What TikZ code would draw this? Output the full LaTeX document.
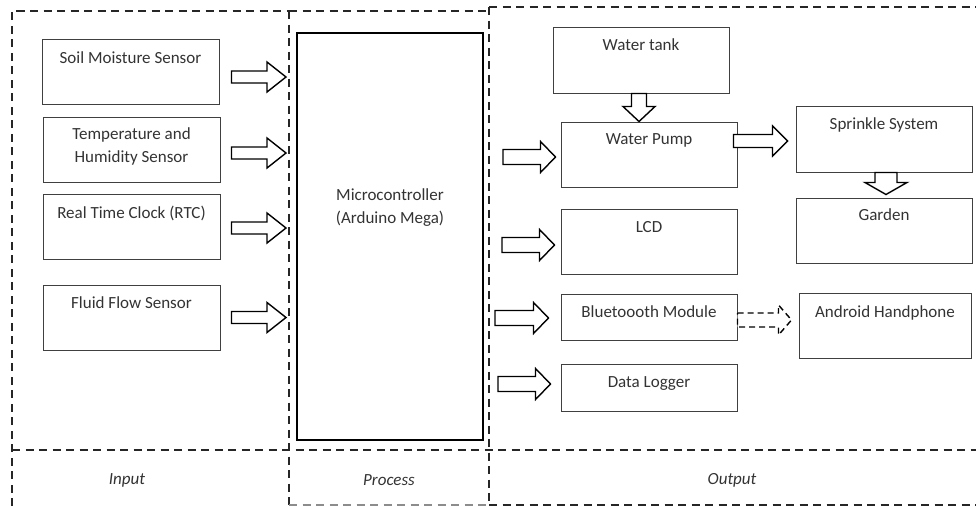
\documentclass[tikz,border=0pt]{standalone}
\usepackage{fontspec}
\setmainfont{Carlito}
\usetikzlibrary{calc}
\tikzset{
  box/.style={draw=black!75, line width=1pt, rectangle, inner sep=0pt},
  mcbox/.style={draw=black, line width=2pt, rectangle, inner sep=0pt},
  txt/.style={font=\fontsize{17}{23}\selectfont, text=black!80, align=center, inner sep=0pt, anchor=base},
  lbl/.style={font=\fontsize{17}{23}\selectfont\itshape, text=black!80, inner sep=0pt, anchor=base},
  panel/.style={line width=1.4pt, dash pattern=on 8pt off 5.5pt, black!85},
  blk/.style={draw=black, line width=1.4pt, fill=white, line join=miter},
  dblk/.style={blk, dash pattern=on 6pt off 4pt}
}
% horizontal block arrow: [style]{start}{end}{shaft half}{head half}{head length}
\newcommand\harr[6][]{\draw[blk,#1] let \p1=#2, \p2=#3 in
  (\x1,{\y1+#4}) -- ({\x2-#6},{\y1+#4}) -- ({\x2-#6},{\y1+#5}) -- (\x2,\y1)
  -- ({\x2-#6},{\y1-#5}) -- ({\x2-#6},{\y1-#4}) -- (\x1,{\y1-#4}) -- cycle;}
% vertical (downward) block arrow
\newcommand\varr[6][]{\draw[blk,#1] let \p1=#2, \p2=#3 in
  ({\x1-#4},\y1) -- ({\x1-#4},{\y2+#6}) -- ({\x1-#5},{\y2+#6}) -- (\x1,\y2)
  -- ({\x1+#5},{\y2+#6}) -- ({\x1+#4},{\y2+#6}) -- ({\x1+#4},\y1) -- cycle;}
\begin{document}
\begin{tikzpicture}[x=1pt,y=-1pt]
\useasboundingbox (0,0) rectangle (976,506);
% panels
\draw[panel] (12,506) -- (12,11) -- (289,11);
\draw[panel] (289,11) -- (489,11);
\draw[panel] (489,7) -- (976,7);
\draw[panel] (289,11) -- (289,506);
\draw[panel] (489,7) -- (489,506);
\draw[panel] (12,450) -- (976,450);
\draw[panel, black!45] (289,505) -- (489,505);
\draw[panel] (489,505) -- (976,505);
\node[lbl] (linput) at (127,484) {Input};
\node[lbl] (lprocess) at (389,485) {Process};
\node[lbl] (loutput) at (732,484) {Output};
% input boxes
\node[box, minimum width=177pt, minimum height=65pt] (soil) at (130.5,71.5) {};
\node[box, minimum width=177pt, minimum height=65pt] (temp) at (131.5,149.5) {};
\node[box, minimum width=177pt, minimum height=65pt] (rtc) at (131.5,226.5) {};
\node[box, minimum width=177pt, minimum height=65pt] (flow) at (131.5,317.5) {};
\node[txt] (soilT) at ($(soil.north)+(0,25)$) {Soil Moisture Sensor};
\node[txt] (tempT) at ($(temp.north)+(0,46)$) {Temperature and\\Humidity Sensor};
\node[txt] (rtcT) at ($(rtc.north)+(0,25)$) {Real Time Clock (RTC)};
\node[txt] (flowT) at ($(flow.north)+(0,24)$) {Fluid Flow Sensor};
% microcontroller
\node[mcbox, minimum width=186pt, minimum height=407pt] (mc) at (390,236.5) {};
\node[txt] (mcT) at (390,223) {Microcontroller\\(Arduino Mega)};
% output boxes
\node[box, minimum width=176pt, minimum height=66pt] (tank) at (641,60) {};
\node[box, minimum width=176pt, minimum height=65pt] (pump) at (649,154.5) {};
\node[box, minimum width=176pt, minimum height=65pt] (lcd) at (649,241.5) {};
\node[box, minimum width=176pt, minimum height=46pt] (bt) at (649,317) {};
\node[box, minimum width=176pt, minimum height=47pt] (logger) at (649,387.5) {};
\node[box, minimum width=176pt, minimum height=66pt] (sprink) at (884,139) {};
\node[box, minimum width=176pt, minimum height=65pt] (garden) at (884,230.5) {};
\node[box, minimum width=172pt, minimum height=65pt] (android) at (885,325.5) {};
\node[txt] (tankT) at ($(tank.north)+(0,24)$) {Water tank};
\node[txt] (pumpT) at ($(pump.north)+(0,23)$) {Water Pump};
\node[txt] (lcdT) at ($(lcd.north)+(0,24)$) {LCD};
\node[txt] (btT) at ($(bt.north)+(0,24)$) {Bluetoooth Module};
\node[txt] (loggerT) at ($(logger.north)+(0,24)$) {Data Logger};
\node[txt] (sprinkT) at ($(sprink.north)+(0,24)$) {Sprinkle System};
\node[txt] (gardenT) at ($(garden.north)+(0,23)$) {Garden};
\node[txt] (androidT) at ($(android.north)+(0,25)$) {Android Handphone};
% input arrows
\harr{($(soil.east)+(12,5.5)$)}{($(soil.east -| mc.west)+(-10,0)$)}{6pt}{15pt}{19pt}
\harr{($(temp.east)+(11,3.5)$)}{($(temp.east -| mc.west)+(-10,0)$)}{6pt}{15pt}{19pt}
\harr{($(rtc.east)+(11,1.5)$)}{($(rtc.east -| mc.west)+(-10,0)$)}{6pt}{15pt}{19pt}
\harr{($(flow.east)+(11,0)$)}{($(flow.east -| mc.west)+(-10,0)$)}{6pt}{15pt}{19pt}
% output arrows from microcontroller
\harr{($(mc.east |- pump.west)+(19,2.5)$)}{($(pump.west)+(-5,0)$)}{7.5pt}{15.5pt}{15pt}
\harr{($(mc.east |- lcd.west)+(18,3.5)$)}{($(lcd.west)+(-6,0)$)}{7.5pt}{15.5pt}{15pt}
\harr{($(mc.east |- bt.west)+(11,1)$)}{($(bt.west)+(-12,0)$)}{7.5pt}{15.5pt}{15pt}
\harr{($(mc.east |- logger.west)+(14,-3.5)$)}{($(logger.west)+(-10,0)$)}{7.5pt}{15.5pt}{15pt}
% other arrows
\varr{($(tank.south)+(-2,0)$)}{($(pump.north)+(-2,0)$)}{7.5pt}{16pt}{15pt}
\harr{($(pump.east)+(-4,-13.5)$)}{($(sprink.west)+(-8,0)$)}{6.5pt}{15pt}{15pt}
\varr{($(sprink.south)+(2,0)$)}{($(garden.north)+(2,-3)$)}{11pt}{21pt}{12pt}
\harr[dblk]{($(bt.east)+(0,3)$)}{($(android.west)+(-7,0)$)}{7pt}{15pt}{13pt}
\end{tikzpicture}
\end{document}
